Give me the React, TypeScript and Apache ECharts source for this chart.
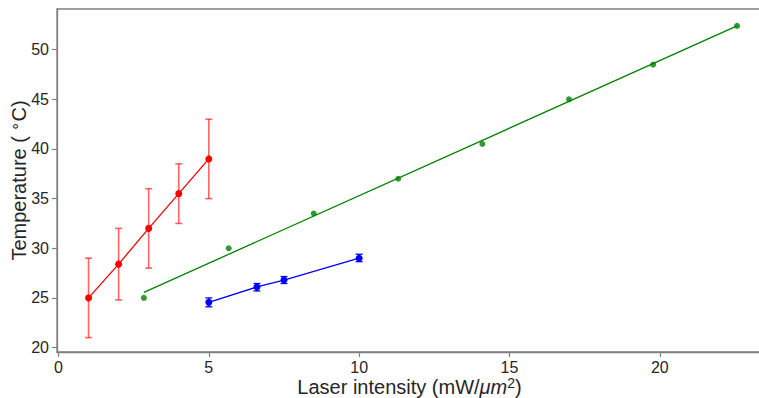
import React, { useEffect, useRef } from "react";
import * as echarts from "echarts";

// Red series (with error bars)
const redX = [1, 2, 3, 4, 5];
const redY = [25.0, 28.4, 32.0, 35.5, 39.0];
const redLow = [21.0, 24.8, 28.0, 32.5, 35.0];
const redHigh = [29.0, 32.0, 36.0, 38.5, 43.0];

// Blue series (with error bars)
const blueX = [5.0, 6.6, 7.5, 10.0];
const blueY = [24.55, 26.1, 26.8, 29.0];
const blueLow = [24.1, 25.7, 26.45, 28.65];
const blueHigh = [25.0, 26.45, 27.15, 29.4];

// Green series (scatter + linear fit)
const greenX = [2.84, 5.66, 8.49, 11.3, 14.1, 16.98, 19.78, 22.57];
const greenY = [25.0, 30.0, 33.5, 37.0, 40.5, 45.0, 48.5, 52.4];

const xTicks = [0, 5, 10, 15, 20];
const yTicks = [20, 25, 30, 35, 40, 45, 50];

function linearFit(xs: number[], ys: number[]) {
  const n = xs.length;
  const mx = xs.reduce((a, b) => a + b, 0) / n;
  const my = ys.reduce((a, b) => a + b, 0) / n;
  let sxy = 0, sxx = 0;
  for (let i = 0; i < n; i++) {
    sxy += (xs[i] - mx) * (ys[i] - my);
    sxx += (xs[i] - mx) * (xs[i] - mx);
  }
  const slope = sxy / sxx;
  const icpt = my - slope * mx;
  const x0 = Math.min(...xs), x1 = Math.max(...xs);
  return [[x0, icpt + slope * x0], [x1, icpt + slope * x1]];
}

function errorBarSeries(xs: number[], lo: number[], hi: number[], color: string, capHalf: number, width: number) {
  return {
    type: "custom",
    silent: true,
    z: 1,
    data: xs.map((x, i) => [x, lo[i], hi[i]]),
    renderItem: (params: any, api: any) => {
      const x = api.value(0);
      const pLo = api.coord([x, api.value(1)]);
      const pHi = api.coord([x, api.value(2)]);
      const style = { stroke: color, lineWidth: width, fill: "none" };
      return {
        type: "group",
        children: [
          { type: "line", shape: { x1: pLo[0], y1: pLo[1], x2: pHi[0], y2: pHi[1] }, style },
          { type: "line", shape: { x1: pLo[0] - capHalf, y1: pLo[1], x2: pLo[0] + capHalf, y2: pLo[1] }, style },
          { type: "line", shape: { x1: pHi[0] - capHalf, y1: pHi[1], x2: pHi[0] + capHalf, y2: pHi[1] }, style },
        ],
      };
    },
  };
}

export default function App() {
  const ref = useRef<HTMLDivElement>(null);
  useEffect(() => {
    if (!ref.current) return;
    const chart = echarts.init(ref.current, null, { renderer: "svg" });
    const textColor = "#262626";
    const axisColor = "#808080";
    const font = "Liberation Sans, Arial, sans-serif";
    const fit = linearFit(greenX, greenY);
    chart.setOption({
      animation: false,
      backgroundColor: "#ffffff",
      textStyle: { fontFamily: font },
      grid: {
        left: 57,
        top: 9,
        right: -3,
        bottom: 46,
        outerBoundsMode: "none",
        containLabel: false,
        show: true,
        borderColor: axisColor,
        borderWidth: 1.3,
        backgroundColor: "transparent",
      },
      xAxis: {
        type: "value",
        min: -0.05,
        max: 23.4,
        interval: 5,
        splitLine: { show: false },
        axisLine: { show: true, onZero: false, lineStyle: { color: axisColor, width: 1.3 } },
        axisTick: { show: true, length: 5, lineStyle: { color: axisColor, width: 1.2 }, customValues: xTicks },
        axisLabel: {
          fontSize: 16,
          color: textColor,
          margin: 7,
          fontFamily: font,
          customValues: xTicks,
        },
        name: "Laser intensity (mW/{it|μm}{sup|2})",
        nameLocation: "middle",
        nameGap: 24,
        nameMoveOverlap: false,
        nameTextStyle: {
          fontSize: 20,
          color: textColor,
          fontFamily: font,
          rich: {
            it: { fontSize: 20, fontStyle: "italic", color: textColor, fontFamily: font },
            sup: { fontSize: 14, color: textColor, fontFamily: font, padding: [0, 0, 8, 0] },
          },
        },
      },
      yAxis: {
        type: "value",
        min: 19.55,
        max: 54.1,
        splitLine: { show: false },
        axisLine: { show: true, onZero: false, lineStyle: { color: axisColor, width: 1.3 } },
        axisTick: { show: true, length: 5, lineStyle: { color: axisColor, width: 1.2 }, customValues: yTicks },
        axisLabel: {
          fontSize: 16,
          color: textColor,
          margin: 8,
          fontFamily: font,
          customValues: yTicks,
        },
        name: "Temperature ( {sup|∘}C)",
        nameLocation: "middle",
        nameGap: 26,
        nameRotate: 90,
        nameMoveOverlap: false,
        nameTextStyle: {
          fontSize: 20,
          color: textColor,
          fontFamily: font,
          rich: {
            sup: { fontSize: 15, color: textColor, fontFamily: font, padding: [0, 0, 9, 0] },
          },
        },
      },
      series: [
        errorBarSeries(redX, redLow, redHigh, "rgba(255,0,0,0.6)", 3.5, 1.6),
        {
          type: "line",
          data: redX.map((x, i) => [x, redY[i]]),
          symbol: "circle",
          symbolSize: 7,
          itemStyle: { color: "#ff0000" },
          lineStyle: { color: "#ff0000", width: 1.3 },
          z: 3,
        },
        errorBarSeries(blueX, blueLow, blueHigh, "#0000ff", 3.5, 1.3),
        {
          type: "line",
          data: blueX.map((x, i) => [x, blueY[i]]),
          symbol: "circle",
          symbolSize: 7,
          itemStyle: { color: "#0000ff" },
          lineStyle: { color: "#0000ff", width: 1.3 },
          z: 3,
        },
        {
          type: "line",
          data: fit,
          symbol: "none",
          lineStyle: { color: "#008000", width: 1.3 },
          z: 2,
        },
        {
          type: "scatter",
          data: greenX.map((x, i) => [x, greenY[i]]),
          symbol: "circle",
          symbolSize: 6,
          itemStyle: { color: "#008000" },
          z: 3,
        },
      ],
    });
    return () => chart.dispose();
  }, []);
  return <div ref={ref} style={{ width: 759, height: 398, position: "absolute", left: 0, top: 0 }} />;
}
